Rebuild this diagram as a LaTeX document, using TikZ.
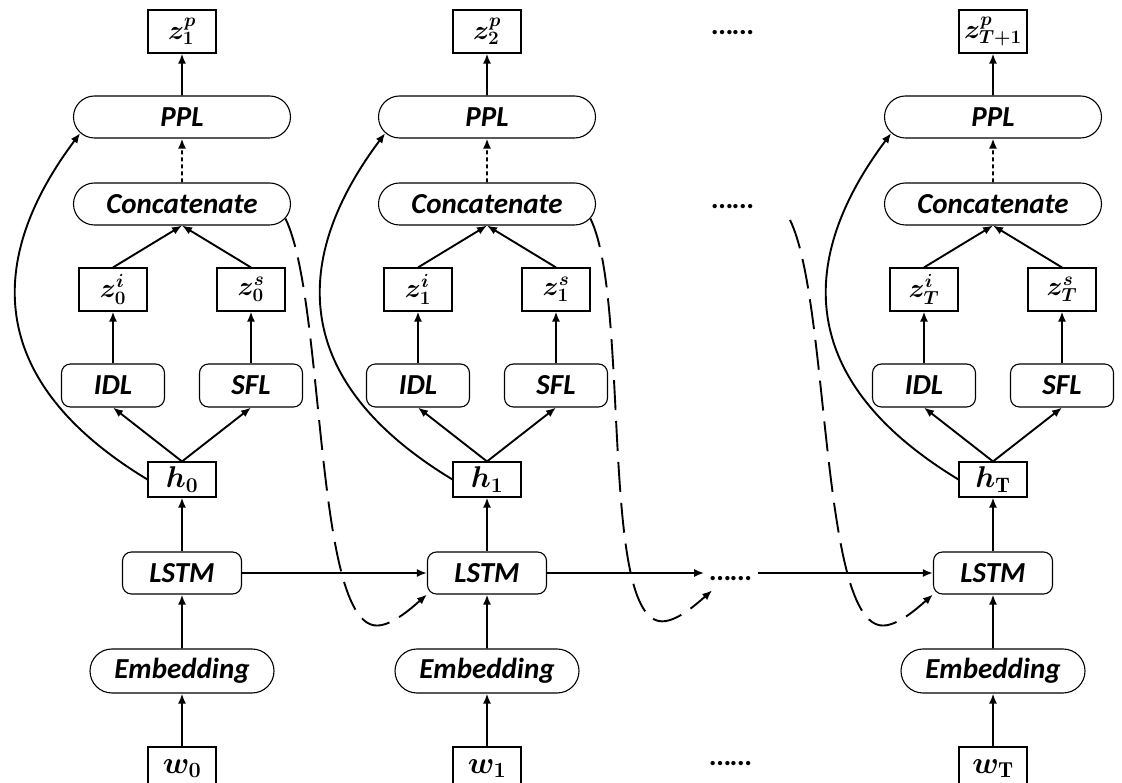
\RequirePackage{fix-cm}
\documentclass[tikz,border=0pt]{standalone}
\usepackage{fontspec}
\usepackage{bm}
\newfontfamily\lblfont{Carlito}
\usetikzlibrary{arrows.meta,shapes.misc}

\tikzset{
  lbl/.style={font=\lblfont\bfseries\itshape\fontsize{29}{34}\selectfont},
  vec/.style={draw,line width=1.1pt,minimum width=68pt,minimum height=43pt,inner sep=0pt,font=\fontsize{27}{32}\selectfont},
  pill/.style={lbl,draw,rounded rectangle,line width=1.1pt,minimum width=217pt,minimum height=42pt,inner sep=0pt},
  block/.style={lbl,draw,rounded corners=9pt,line width=1.1pt,minimum width=103pt,minimum height=43pt,inner sep=0pt},
  gap/.style={lbl,inner sep=6pt},
  link/.style={-{Latex[length=10pt,width=8pt]},line width=1.9pt},
  carry/.style={link,dash pattern=on 30pt off 11pt},
}

\begin{document}
\begin{tikzpicture}[x=1pt,y=1pt]
  \useasboundingbox (0,0) rectangle (1122,782);
  \clip (0,0) rectangle (1122,782);

  % one column per time step: index / x / z subscript / z^p subscript / h,w subscript
  \foreach \n/\x/\ix/\ip/\iu in {0/182/0/1/0, 1/487/1/2/1, 2/993/T/T+1/\mathrm{T}} {
    \node[vec] (zp\n) at (\x,750.5) {$\bm{z}^{\bm{p}}_{\bm{\ip}}$};
    \node[pill] (ppl\n) at (\x,665) {PPL};
    \node[pill] (cat\n) at (\x,578) {Concatenate};
    \node[vec] (zi\n) at (\x-69,492.5) {$\bm{z}^{\bm{i}}_{\bm{\ix}}$};
    \node[vec] (zs\n) at (\x+69,492.5) {$\bm{z}^{\bm{s}}_{\bm{\ix}}$};
    \node[block] (idl\n) at (\x-69,396.5) {IDL};
    \node[block] (sfl\n) at (\x+69,396.5) {SFL};
    \node[vec,minimum height=35pt,font=\fontsize{30}{34}\selectfont] (h\n) at (\x,302.5) {$\bm{h}_{\bm{\iu}}$};
    \node[block,minimum width=119pt,minimum height=42pt] (lstm\n) at (\x,209) {LSTM};
    \node[pill,minimum width=184pt,minimum height=44pt] (emb\n) at (\x,111) {Embedding};
    \node[vec,font=\fontsize{31}{34}\selectfont] (w\n) at (\x,13.5) {$\bm{w}_{\bm{\iu}}$};

    % bottom-up flow
    \draw[link] (w\n) -- (emb\n);
    \draw[link] (emb\n) -- (lstm\n);
    \draw[link] (lstm\n) -- (h\n);
    \draw[link] (h\n.north) -- (idl\n.south);
    \draw[link] (h\n.north) -- (sfl\n.south);
    \draw[link] (idl\n) -- (zi\n);
    \draw[link] (sfl\n) -- (zs\n);
    \draw[link] (zi\n.north) -- (cat\n.south);
    \draw[link] (zs\n.north) -- (cat\n.south);
    \draw[link,dash pattern=on 4pt off 3pt] (cat\n) -- (ppl\n);
    \draw[link] (ppl\n) -- (zp\n);
    % skip from h straight to PPL
    \draw[link] (h\n.west) .. controls +(-190,115) and +(-72,-96) .. (ppl\n.189);
  }

  % elided steps
  \node[gap] (dtop) at (733,749) {……};
  \node[gap] (dcat) at (733,575) {……};
  \node[gap] (dlstm) at (731,203) {……};
  \node[gap] (dw) at (731,18) {……};

  % recurrent links
  \draw[link] (lstm0) -- (lstm1);
  \draw[link] (lstm1.east) -- (lstm1.east -| dlstm.west);
  \draw[link] (dlstm.east |- lstm2.west) -- (lstm2.west);

  % concatenated state fed to the next LSTM
  \coordinate (cut) at (790,562);
  \draw[carry] (cat0.352) .. controls +(40,-82) and +(-63,0) .. ([shift={(-50,-31)}]lstm1.south west)
    .. controls +(15,0) and +(-16,-14) .. (lstm1.south west);
  \draw[carry] (cat1.352) .. controls +(40,-82) and +(-63,0) .. ([shift={(-42,-34)}]dlstm.south west)
    .. controls +(15,0) and +(-16,-14) .. ([shift={(8,-3)}]dlstm.south west);
  \draw[carry] (cut) .. controls +(40,-82) and +(-63,0) .. ([shift={(-50,-31)}]lstm2.south west)
    .. controls +(15,0) and +(-16,-14) .. (lstm2.south west);
\end{tikzpicture}
\end{document}
